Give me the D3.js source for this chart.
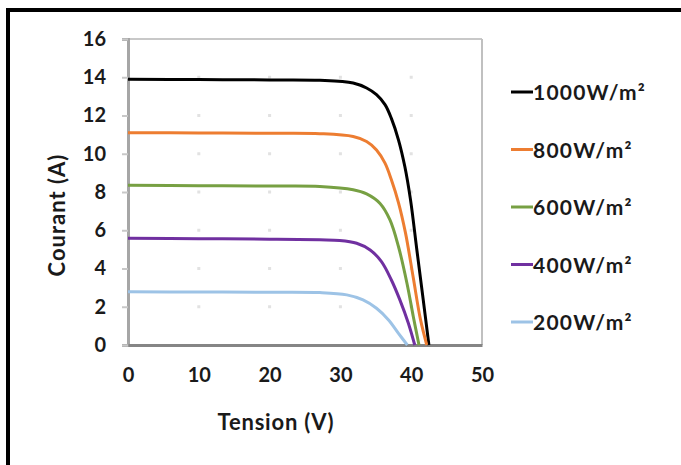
<!DOCTYPE html>
<html><head><meta charset="utf-8">
<script src="https://cdn.jsdelivr.net/npm/d3@7"></script>
<style>body{margin:0;background:#fff}svg{display:block}text{font-family:"Lato","DejaVu Sans",sans-serif;font-weight:700;fill:#1a1a1a}</style>
</head><body><svg id="c" width="681" height="465"></svg>
<script>
const seriesNames = ["1000W/m²","800W/m²","600W/m²","400W/m²","200W/m²"];
const seriesColors = ["#000000","#ed7d31","#77a043","#7030a0","#9dc3e6"];
// [V, I] points
const s1000 = [[0,13.9],[10,13.88],[20,13.86],[27.1,13.84],[31.8,13.7],[33.7,13.44],[35.1,13.09],[36.3,12.57],[37.2,11.85],[38.2,10.73],[39.1,9.33],[39.9,7.6],[40.8,4.97],[41.7,2.36],[42.5,0]];
const s800  = [[0,11.1],[10,11.09],[20,11.07],[27.1,11.05],[31.8,10.9],[33.7,10.64],[35.1,10.2],[36.3,9.51],[37.2,8.64],[38.2,7.45],[39.2,5.85],[40.3,3.5],[41.3,1.35],[42.2,0]];
const s600  = [[0,8.35],[10,8.33],[20,8.31],[27.1,8.29],[31.8,8.12],[33.7,7.9],[35.6,7.4],[37.0,6.54],[38.2,5.15],[39.4,3.23],[40.3,1.48],[41.1,0]];
const s400  = [[0,5.58],[10,5.56],[20,5.53],[27.1,5.5],[29.9,5.47],[32.3,5.32],[34.2,4.97],[35.8,4.36],[37.2,3.4],[38.4,2.36],[39.6,1.14],[40.5,0]];
const s200  = [[0,2.78],[10,2.77],[20,2.76],[27.1,2.74],[30.9,2.62],[33.2,2.36],[35.1,1.92],[36.8,1.31],[38.2,0.61],[39.45,0]];
const seriesData = [s1000,s800,s600,s400,s200];
const xTicks = [0,10,20,30,40,50];
const yTicks = [0,2,4,6,8,10,12,14,16];

const svg = d3.select("#c");
// outer frame
svg.append("rect").attr("x",8).attr("y",10).attr("width",700).attr("height",500)
  .attr("fill","none").attr("stroke","#000").attr("stroke-width",4);

const x = d3.scaleLinear().domain([0,50]).range([128,482]);
const y = d3.scaleLinear().domain([0,16]).range([345,39]);

// plot frame
svg.append("line").attr("x1",x(0)).attr("x2",x(50)).attr("y1",y(16)).attr("y2",y(16)).attr("stroke","#c8c8c8").attr("stroke-width",2);
svg.append("line").attr("x1",x(50)).attr("x2",x(50)).attr("y1",y(16)).attr("y2",y(0)).attr("stroke","#c0c0c0").attr("stroke-width",2);

// grid dots at intersections
const gd = svg.append("g");
xTicks.slice(1,-1).forEach(xv=>yTicks.slice(1,-1).forEach(yv=>{
  gd.append("rect").attr("x",x(xv)-1.5).attr("y",y(yv)-1.5).attr("width",3).attr("height",3).attr("fill","#e2e2e2");
}));

// y axis
const ya = svg.append("g").attr("transform",`translate(${x(0)},0)`)
  .call(d3.axisLeft(y).tickValues(yTicks).tickSize(6).tickPadding(16));
ya.select(".domain").attr("stroke","#a6a6a6").attr("stroke-width",3);
ya.selectAll(".tick line").attr("stroke","#c8c8c8").attr("stroke-width",2);
ya.selectAll(".tick text").style("font-size","20px").attr("fill","#1a1a1a");

// x axis
const xa = svg.append("g").attr("transform",`translate(0,${y(0)})`)
  .call(d3.axisBottom(x).tickValues(xTicks).tickSize(0).tickPadding(23));
xa.select(".domain").attr("stroke","#858585").attr("stroke-width",3);
xa.selectAll(".tick text").style("font-size","20px").attr("fill","#1a1a1a");

// curves
const line = d3.line().x(d=>x(d[0])).y(d=>y(d[1])).curve(d3.curveCatmullRom.alpha(0.5));
seriesData.forEach((s,i)=>{
  svg.append("path").attr("d",line(s)).attr("fill","none").attr("stroke",seriesColors[i]).attr("stroke-width",3);
});

// axis titles
svg.append("text").attr("x",276).attr("y",430).attr("text-anchor","middle").style("font-size","22px").style("letter-spacing","0.8px").text("Tension (V)");
svg.append("text").attr("transform","translate(65,215) rotate(-90)").attr("text-anchor","middle").style("font-size","22px").style("letter-spacing","1px").text("Courant (A)");

// legend
const lg = svg.append("g");
seriesNames.forEach((n,i)=>{
  const yy = 92 + i*57.5;
  lg.append("line").attr("x1",511).attr("x2",533).attr("y1",yy).attr("y2",yy).attr("stroke",seriesColors[i]).attr("stroke-width",3);
  lg.append("text").attr("x",533).attr("y",yy+8).style("font-size","21px").style("letter-spacing","1.2px").text(n);
});
</script></body></html>
